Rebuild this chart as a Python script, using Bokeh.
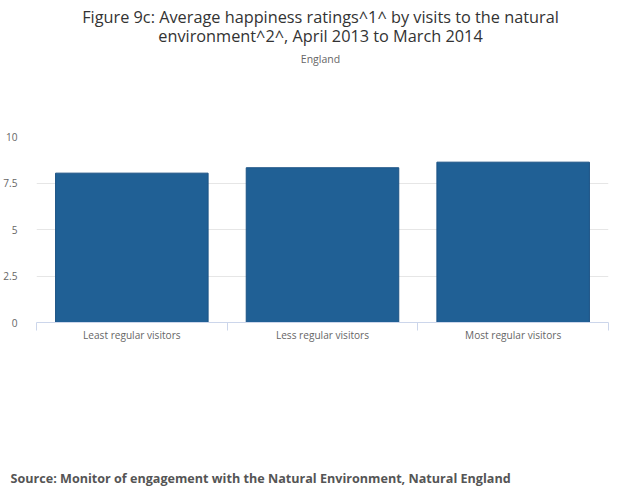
import numpy as np
from bokeh.plotting import figure
from bokeh.layouts import column
from bokeh.models import ColumnDataSource, Range1d, FixedTicker, Title
from bokeh.core.properties import value
from bokeh.embed import file_html
from bokeh.resources import INLINE

categories = ["Least regular visitors", "Less regular visitors", "Most regular visitors"]
values = [8.03, 8.32, 8.62]
y_ticks = [0, 2.5, 5, 7.5, 10]
y_tick_labels = ["0", "2.5", "5", "7.5", "10"]

title_line1 = "Figure 9c: Average happiness ratings^1^ by visits to the natural"
title_line2 = "environment^2^, April 2013 to March 2014"
subtitle = "England"
source_text = "Source: Monitor of engagement with the Natural Environment, Natural England"

FONT = "Open Sans"
W = 632
LEFT, RIGHT = 36, 24
HEADER_H = 96
FOOTER_H = 126
TICK_FONT = "10.1px"


def blank(h, y_range):
    f = figure(width=W, height=h, x_range=Range1d(LEFT, W - RIGHT), y_range=y_range,
               x_axis_type=None, y_axis_type=None, output_backend="svg",
               toolbar_location=None, min_border=0,
               min_border_left=LEFT, min_border_right=RIGHT)
    f.outline_line_color = None
    f.grid.visible = False
    return f


# header with titles (range set so that one unit is one pixel, y downwards)
header = blank(HEADER_H, Range1d(HEADER_H, 0))
header.text(x=[320, 320], y=[16.5, 35.5],
            text=[title_line1, title_line2], text_align="center", text_baseline="middle",
            text_font=value(FONT), text_font_size="16.3px", text_color="#333333")
header.text(x=[320], y=[58.5], text=[subtitle], text_align="center",
            text_baseline="middle", text_font=value(FONT), text_font_size="10.5px",
            text_color="#666666")

# main chart
centers = list(np.arange(len(categories)) + 0.5)
src = ColumnDataSource(dict(x=centers, top=values, cat=categories))

p = figure(width=W, height=(136 - HEADER_H) + 186 + 38,
           x_range=Range1d(0, len(categories)), y_range=Range1d(0, 10),
           output_backend="svg", toolbar_location=None,
           min_border_left=LEFT, min_border_right=RIGHT,
           min_border_top=136 - HEADER_H, min_border_bottom=38)
p.outline_line_color = None

p.vbar(x="x", top="top", width=0.8, bottom=0, source=src,
       fill_color="#206095", line_color="#1b5284", line_width=1)

p.xaxis.ticker = FixedTicker(ticks=centers, minor_ticks=list(range(len(categories) + 1)))
p.xaxis.major_label_overrides = {c: n for c, n in zip(centers, categories)}
p.xaxis.major_tick_line_color = None
p.xaxis.major_tick_out = 0
p.xaxis.major_tick_in = 0
p.xaxis.minor_tick_out = 8
p.xaxis.minor_tick_in = 0
p.xaxis.minor_tick_line_color = "#ccd6eb"
p.xaxis.axis_line_color = "#ccd6eb"
p.xaxis.major_label_text_font = FONT
p.xaxis.major_label_text_font_size = TICK_FONT
p.xaxis.major_label_text_color = "#666666"
p.xaxis.major_label_standoff = -3
p.xgrid.grid_line_color = None

p.yaxis.ticker = FixedTicker(ticks=y_ticks)
p.yaxis.major_label_overrides = {t: l for t, l in zip(y_ticks, y_tick_labels)}
p.yaxis.axis_line_color = None
p.yaxis.major_tick_line_color = None
p.yaxis.minor_tick_line_color = None
p.yaxis.major_label_text_font = FONT
p.yaxis.major_label_text_font_size = TICK_FONT
p.yaxis.major_label_text_color = "#666666"
p.yaxis.major_label_standoff = 13
p.ygrid.grid_line_color = "#e6e6e6"

# footer with source
footer = blank(FOOTER_H, Range1d(0, FOOTER_H))
footer.add_layout(Title(text=source_text, align="left", offset=10 - LEFT, standoff=0,
                        text_font=FONT, text_font_size="12.6px", text_font_style="bold",
                        text_color="#555555"), "below")

layout = column(header, p, footer, spacing=0)
open("out.html", "w").write(file_html(layout, INLINE))
